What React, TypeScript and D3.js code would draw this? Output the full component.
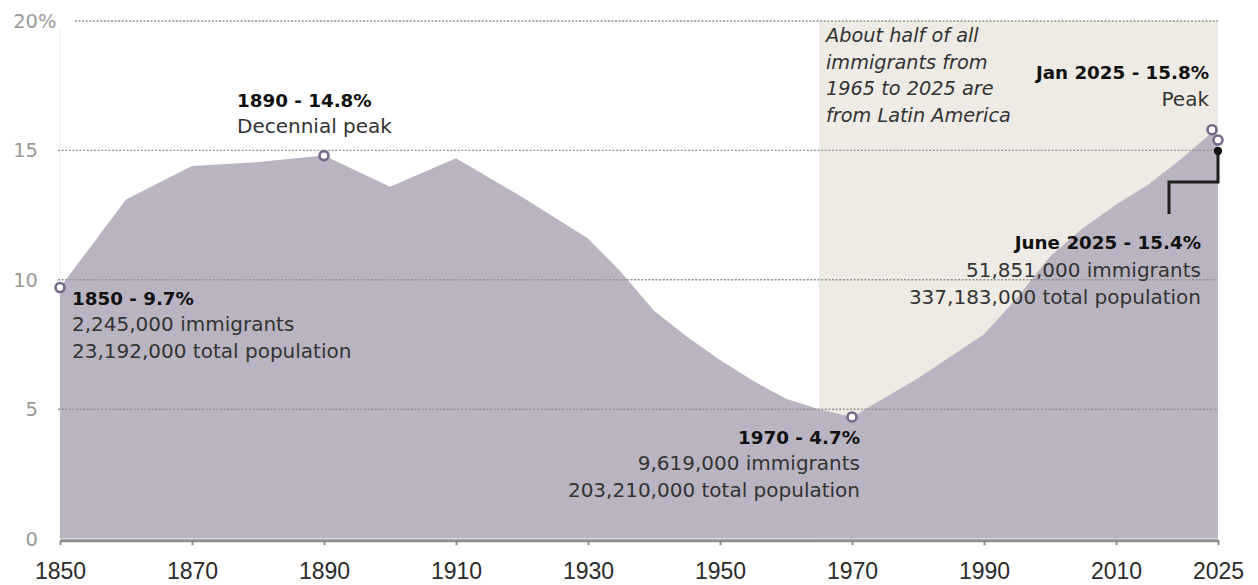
import React, { useEffect, useRef } from "react";
import * as d3 from "d3";

// share of US population that is foreign born, %
const years = [1850, 1860, 1870, 1880, 1890, 1900, 1910, 1920, 1930, 1935, 1940, 1945, 1950, 1955, 1960, 1965, 1970, 1980, 1990, 1995, 2000, 2005, 2010, 2015, 2020, 2025.0, 2025.45];
const shares = [9.7, 13.1, 14.4, 14.55, 14.8, 13.6, 14.7, 13.2, 11.6, 10.3, 8.8, 7.8, 6.9, 6.1, 5.4, 5.0, 4.7, 6.2, 7.9, 9.3, 10.9, 12.0, 12.9, 13.7, 14.7, 15.8, 15.4];

const yTicks = [0, 5, 10, 15, 20];
const xTicks = [1850, 1870, 1890, 1910, 1930, 1950, 1970, 1990, 2010];
const lastTickLabel = "2025";

const highlights = [
  { year: 1850, value: 9.7 },
  { year: 1890, value: 14.8 },
  { year: 1970, value: 4.7 },
  { year: 2025.0, value: 15.8 },
  { year: 2025.45, value: 15.4 },
];

const latinNote = ["About half of all", "immigrants from", "1965 to 2025 are", "from Latin America"];

const FONT = "'DejaVu Sans', sans-serif";

export default function App() {
  const ref = useRef<SVGSVGElement>(null);

  useEffect(() => {
    const width = 1258;
    const height = 585;
    const svg = d3.select(ref.current);
    svg.selectAll("*").remove();
    svg.attr("width", width).attr("height", height);

    const x = d3.scaleLinear().domain([1850, 2025.45]).range([60, 1218]);
    const y = d3.scaleLinear().domain([0, 20]).range([538.6, 21]);

    const data = years.map((yr, i) => ({ year: yr, value: shares[i] }));

    // faint left guide
    svg.append("line")
      .attr("x1", x(1850)).attr("x2", x(1850))
      .attr("y1", y(20) + 8).attr("y2", y(0))
      .attr("stroke", "#f0f0f0").attr("stroke-width", 1);

    // shaded period 1965-2025
    svg.append("rect")
      .attr("x", x(1965)).attr("y", y(20))
      .attr("width", x(2025.45) - x(1965))
      .attr("height", y(0) - y(20))
      .attr("fill", "#edebe4");

    const area = d3.area<{ year: number; value: number }>()
      .x(d => x(d.year))
      .y0(y(0))
      .y1(d => y(d.value));

    svg.append("path")
      .datum(data)
      .attr("d", area)
      .attr("fill", "#bab4c2");

    // gridlines
    svg.append("g").selectAll("line")
      .data(yTicks.filter(t => t > 0))
      .enter().append("line")
      .attr("x1", t => (t === 20 ? 75 : x(1850) - 2))
      .attr("x2", x(2025.45))
      .attr("y1", t => y(t)).attr("y2", t => y(t))
      .attr("stroke", "#939393")
      .attr("stroke-width", 1.4)
      .attr("stroke-dasharray", "2 1.6");

    // y labels
    const yl = svg.append("g").attr("font-family", FONT).attr("font-size", 19.5).attr("fill", "#9a9a9a");
    yTicks.forEach(t => {
      yl.append("text")
        .attr("x", 38).attr("y", y(t) + 7)
        .attr("text-anchor", "end")
        .text(String(t));
      if (t === 20) {
        yl.append("text").attr("x", 38).attr("y", y(t) + 7).text("%");
      }
    });

    // x axis
    const xa = svg.append("g").attr("transform", `translate(0,${y(0) + 1.6})`);
    xa.call(
      d3.axisBottom(x)
        .tickValues([...xTicks, 2025.45])
        .tickFormat(d => (+d === 2025.45 ? lastTickLabel : String(d)))
        .tickSizeInner(5)
        .tickSizeOuter(0)
        .tickPadding(17)
    );
    xa.select(".domain").attr("stroke", "#8e8e8e").attr("stroke-width", 3);
    xa.selectAll(".tick line").attr("stroke", "#8e8e8e").attr("stroke-width", 2);
    xa.selectAll(".tick text")
      .attr("font-family", "'Liberation Sans', Arial, sans-serif")
      .attr("font-size", 23)
      .attr("fill", "#2a2a2a");

    // highlight circles
    svg.append("g").selectAll("circle")
      .data(highlights)
      .enter().append("circle")
      .attr("cx", d => x(d.year) - (d.year === 2025.0 ? 3 : 0))
      .attr("cy", d => y(d.value))
      .attr("r", 4.5)
      .attr("fill", "#fff")
      .attr("stroke", "#75698a")
      .attr("stroke-width", 2.6);

    // leader to June 2025
    const jx = x(2025.45);
    const jy = y(15.4) + 11;
    svg.append("path")
      .attr("d", `M${jx},${jy} V${jy + 31} H${jx - 49} V${jy + 63}`)
      .attr("fill", "none")
      .attr("stroke", "#1e1e1e")
      .attr("stroke-width", 3);
    svg.append("circle").attr("cx", jx).attr("cy", jy).attr("r", 4.2).attr("fill", "#111");

    const block = (
      lines: string[],
      tx: number,
      ty: number,
      anchor: string,
      step = 26.5
    ) => {
      const g = svg.append("g").attr("font-family", FONT).attr("text-anchor", anchor);
      lines.forEach((s, i) => {
        g.append("text")
          .attr("x", tx)
          .attr("y", ty + i * step)
          .attr("font-size", i === 0 ? 18.3 : 20)
          .attr("font-weight", i === 0 ? "bold" : "normal")
          .attr("fill", i === 0 ? "#111" : "#333")
          .text(s);
      });
    };

    block(["1850 - 9.7%", "2,245,000 immigrants", "23,192,000 total population"], x(1850) + 12, y(9.7) + 17, "start", 26.5);
    block(["1890 - 14.8%", "Decennial peak"], x(1890) - 87, y(14.8) - 49, "start", 26.5);
    block(["1970 - 4.7%", "9,619,000 immigrants", "203,210,000 total population"], x(1970) + 8, y(4.7) + 27, "end", 26.5);
    block(["Jan 2025 - 15.8%", "Peak"], x(2025.0) - 6, y(15.8) - 51, "end", 27);
    block(["June 2025 - 15.4%", "51,851,000 immigrants", "337,183,000 total population"], x(2025.45) - 17, y(15.4) + 109, "end", 27.5);

    const note = svg.append("g")
      .attr("font-family", FONT)
      .attr("font-style", "italic")
      .attr("font-size", 19.3)
      .attr("fill", "#333");
    latinNote.forEach((s, i) => {
      note.append("text")
        .attr("x", x(1965) + 7)
        .attr("y", 42 + i * 26.7)
        .text(s);
    });
  }, []);

  return (
    <div style={{ position: "absolute", left: 0, top: 0 }}>
      <svg ref={ref} style={{ display: "block" }} />
    </div>
  );
}
